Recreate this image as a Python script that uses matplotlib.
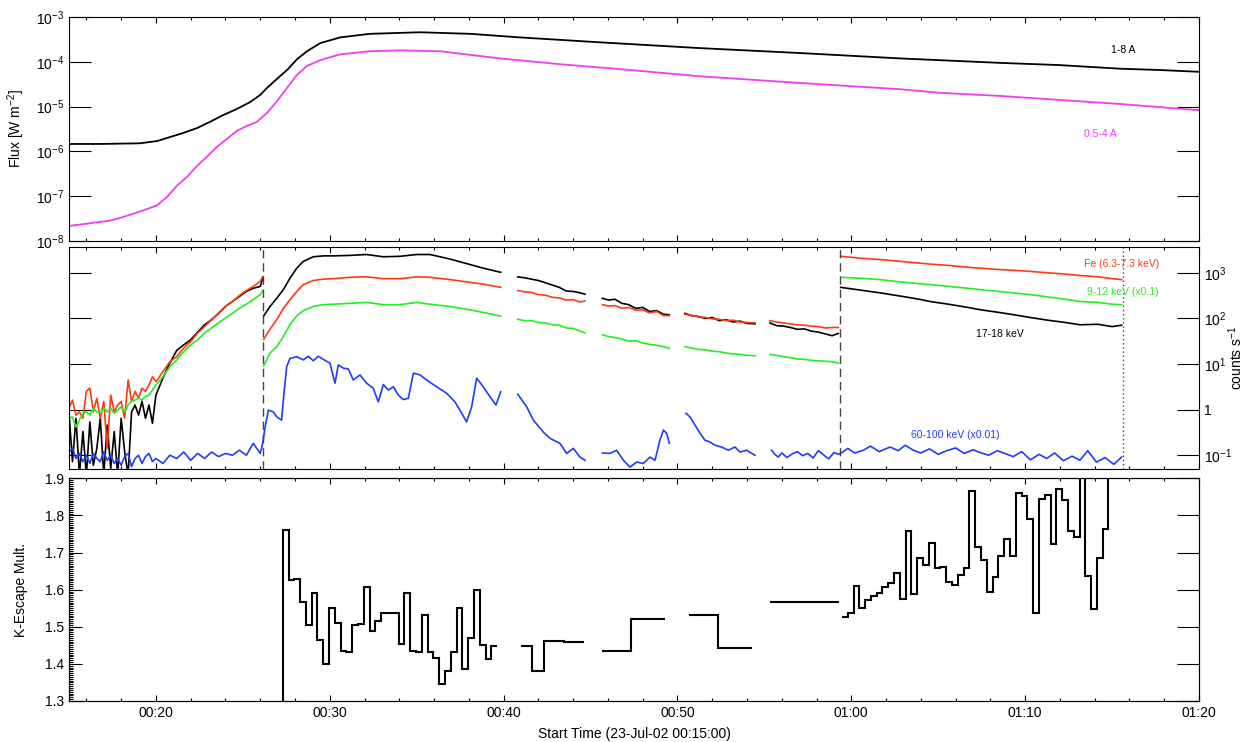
import numpy as np
import matplotlib.pyplot as plt
from matplotlib.ticker import FixedLocator, MultipleLocator, FuncFormatter, NullLocator

plt.rcParams['font.family'] = ['Liberation Sans', 'DejaVu Sans']
plt.rcParams['mathtext.fontset'] = 'custom'
plt.rcParams['mathtext.rm'] = 'Liberation Sans'
plt.rcParams['mathtext.it'] = 'Liberation Sans:italic'
plt.rcParams['mathtext.bf'] = 'Liberation Sans:bold'
plt.rcParams['axes.unicode_minus'] = False

# time axis: minutes after 00:00 UT on 23-Jul-02

# --- GOES flux (log10 W m^-2) ---
goes_long_t = [15.0, 16.78, 19.08, 20.06, 20.81, 21.56, 22.36, 23.11, 23.86, 24.66, 25.41,
               25.99, 26.39, 26.96, 27.54, 28.11, 28.69, 29.44, 30.59, 32.31, 35.19, 38.07,
               40.94, 45.54, 51.30, 57.05, 62.80, 65.10, 68.55, 72.0, 75.45, 77.76, 80.0]
goes_long = [-5.835, -5.835, -5.82, -5.77, -5.68, -5.59, -5.48, -5.34, -5.19, -5.05, -4.90,
             -4.74, -4.58, -4.38, -4.18, -3.94, -3.76, -3.58, -3.45, -3.37, -3.335, -3.37,
             -3.45, -3.56, -3.69, -3.80, -3.92, -3.96, -4.02, -4.07, -4.15, -4.18, -4.22]
goes_short_t = [15.0, 15.63, 16.38, 17.36, 17.93, 18.68, 19.49, 20.06, 20.64, 21.21, 21.79,
                22.36, 22.94, 23.51, 24.09, 24.66, 25.24, 25.81, 26.39, 26.96, 27.54, 28.11,
                28.69, 29.44, 30.59, 32.31, 34.04, 36.34, 39.79, 43.24, 46.69, 51.30, 57.05,
                62.80, 65.10, 68.55, 72.0, 75.45, 80.0]
goes_short = [-7.67, -7.64, -7.60, -7.55, -7.49, -7.40, -7.29, -7.21, -7.02, -6.77, -6.57,
              -6.33, -6.12, -5.90, -5.72, -5.54, -5.43, -5.34, -5.14, -4.88, -4.58, -4.29,
              -4.09, -3.96, -3.83, -3.76, -3.74, -3.76, -3.92, -4.05, -4.16, -4.32, -4.47,
              -4.61, -4.69, -4.76, -4.85, -4.94, -5.08]

# --- RHESSI count rates (log10 counts s^-1), one list per data segment ---
tA = [15.0, 15.2, 15.4, 15.6, 15.8, 16.0, 16.2, 16.4, 16.6, 16.8, 17.0, 17.2, 17.4, 17.6,
      17.8, 18.0, 18.2, 18.4, 18.6, 18.8, 19.0, 19.2, 19.4, 19.6, 19.8, 20.0, 20.4, 20.8,
      21.2, 21.6, 22.0, 22.4, 22.8, 23.2, 23.6, 24.0, 24.4, 24.8, 25.2, 25.6, 26.0, 26.15]
tB = [26.2, 26.56, 26.95, 27.33, 27.71, 28.1, 28.48, 29.05, 29.63, 30.2, 31.16, 32.12,
      33.08, 34.04, 35.0, 35.76, 36.92, 37.87, 38.83, 39.83]
tC = [40.81, 41.2, 41.6, 42.0, 42.4, 42.8, 43.2, 43.6, 44.0, 44.4, 44.68]
tD = [45.68, 46.05, 46.4, 46.8, 47.2, 47.6, 48.0, 48.4, 48.8, 49.2, 49.53]
tE = [50.43, 50.8, 51.2, 51.6, 52.0, 52.4, 52.8, 53.2, 53.6, 54.0, 54.46]
tF = [55.32, 55.7, 56.1, 56.5, 56.9, 57.3, 57.7, 58.1, 58.5, 58.9, 59.25]
tG = [59.39, 60.5, 61.65, 62.8, 63.9, 64.53, 65.6, 66.7, 67.40, 68.5, 69.5, 70.28, 71.3,
      72.3, 73.15, 74.2, 75.0, 75.55]

fe_A = [0.03, 0.21, -0.12, -0.05, -0.19, 0.40, 0.47, -0.05, 0.25, -0.19, 0.18, -0.85, 0.32,
        -0.05, 0.10, 0.18, -0.19, 0.65, 0.18, 0.40, 0.25, 0.47, 0.40, 0.54, 0.72, 0.61, 0.83,
        1.05, 1.16, 1.35, 1.49, 1.68, 1.82, 1.97, 2.11, 2.26, 2.37, 2.50, 2.61, 2.70, 2.81, 2.92]
fe_B = [1.54, 1.76, 1.97, 2.22, 2.41, 2.59, 2.74, 2.83, 2.86, 2.87, 2.90, 2.91, 2.87, 2.87,
        2.91, 2.90, 2.85, 2.80, 2.75, 2.68]
fe_C = [2.61, 2.58, 2.57, 2.52, 2.51, 2.46, 2.45, 2.40, 2.41, 2.36, 2.38]
fe_D = [2.30, 2.27, 2.28, 2.22, 2.24, 2.18, 2.19, 2.12, 2.15, 2.06, 2.06]
fe_E = [2.09, 2.07, 2.03, 2.02, 1.99, 1.98, 1.95, 1.96, 1.92, 1.91, 1.90]
fe_F = [1.95, 1.92, 1.90, 1.88, 1.86, 1.85, 1.83, 1.82, 1.79, 1.80, 1.80]
fe_G = [3.36, 3.32, 3.29, 3.25, 3.21, 3.19, 3.16, 3.12, 3.10, 3.07, 3.05, 3.03, 3.00, 2.97,
        2.94, 2.91, 2.87, 2.85]

lo_A = [-0.19, -0.16, -0.38, -0.23, -0.08, -0.05, -0.12, 0.03, -0.05, -0.08, 0.03, -0.05,
        0.03, -0.08, -0.01, 0.06, -0.05, 0.10, 0.18, 0.21, 0.25, 0.21, 0.29, 0.32, 0.43, 0.54,
        0.72, 0.94, 1.09, 1.27, 1.42, 1.53, 1.68, 1.79, 1.90, 2.01, 2.11, 2.22, 2.31, 2.41,
        2.52, 2.61]
lo_B = [0.96, 1.24, 1.38, 1.60, 1.86, 2.055, 2.17, 2.26, 2.30, 2.31, 2.33, 2.35, 2.30, 2.30,
        2.35, 2.31, 2.26, 2.20, 2.13, 2.05]
lo_C = [1.98, 1.95, 1.95, 1.91, 1.90, 1.86, 1.85, 1.79, 1.78, 1.72, 1.68]
lo_D = [1.64, 1.60, 1.58, 1.55, 1.50, 1.51, 1.46, 1.43, 1.41, 1.38, 1.34]
lo_E = [1.38, 1.35, 1.32, 1.31, 1.28, 1.27, 1.24, 1.22, 1.21, 1.19, 1.18]
lo_F = [1.21, 1.19, 1.16, 1.14, 1.11, 1.10, 1.08, 1.07, 1.06, 1.05, 1.02]
lo_G = [2.90, 2.88, 2.85, 2.80, 2.76, 2.74, 2.70, 2.66, 2.63, 2.59, 2.55, 2.52, 2.47, 2.42,
        2.37, 2.35, 2.31, 2.30]

hi_A = [-0.08, -1.14, -0.19, -1.43, -0.48, -1.43, -0.27, -1.22, -0.85, -0.19, -1.43, -0.34,
        -1.29, -0.48, -1.43, -0.19, -0.92, -1.43, -0.05, 0.10, -0.12, 0.18, -0.19, 0.10,
        -0.30, 0.32, 0.69, 1.02, 1.30, 1.42, 1.53, 1.70, 1.86, 1.97, 2.11, 2.26, 2.37, 2.48,
        2.59, 2.66, 2.70, 2.88]
hi_B = [2.055, 2.26, 2.44, 2.63, 2.88, 3.10, 3.25, 3.35, 3.37, 3.37, 3.38, 3.40, 3.35, 3.36,
        3.40, 3.40, 3.30, 3.20, 3.10, 3.01]
hi_C = [2.91, 2.89, 2.86, 2.83, 2.78, 2.73, 2.68, 2.60, 2.59, 2.56, 2.53]
hi_D = [2.44, 2.40, 2.42, 2.33, 2.30, 2.22, 2.24, 2.15, 2.17, 2.09, 2.08]
hi_E = [2.11, 2.06, 2.04, 2.00, 2.02, 1.95, 1.97, 1.92, 1.94, 1.89, 1.88]
hi_F = [1.90, 1.84, 1.83, 1.80, 1.76, 1.77, 1.72, 1.70, 1.66, 1.62, 1.67]
hi_G = [2.68, 2.62, 2.56, 2.49, 2.42, 2.37, 2.31, 2.24, 2.19, 2.13, 2.07, 2.02, 1.96, 1.91,
        1.86, 1.87, 1.82, 1.85]

tb_AB = tA + [26.27, 26.47, 26.75, 26.95, 27.23, 27.33, 27.52, 27.71, 28.10, 28.48, 28.77,
              29.05, 29.34, 29.63, 30.01, 30.30, 30.49, 30.78, 31.07, 31.35, 31.74, 32.12,
              32.50, 32.79, 33.08, 33.37, 33.66, 33.94, 34.23, 34.52, 34.81, 35.19, 35.57,
              36.15, 36.72, 37.20, 37.59, 37.87, 38.16, 38.45, 38.83, 39.22, 39.56, 39.83]
b_AB = [-0.93, -0.85, -1.07, -0.96, -1.14, -1.00, -1.18, -0.96, -1.07, -1.14, -0.93, -1.11,
        -1.00, -1.18, -1.07, -1.22, -1.03, -0.96, -1.25, -1.07, -1.00, -1.18, -1.03, -0.96,
        -1.14, -1.07, -1.18, -1.00, -1.07, -0.93, -1.11, -0.96, -1.07, -0.93, -1.03, -0.96,
        -1.00, -0.89, -1.00, -0.74, -0.96, -0.72,
        -0.41, -0.01, -0.05, -0.16, -0.23, 0.21, 0.94, 1.12, 1.16, 1.09, 1.17, 1.07, 1.17,
        1.10, 1.02, 0.58, 0.98, 0.91, 0.89, 0.65, 0.76, 0.58, 0.47, 0.17, 0.55, 0.43, 0.50,
        0.32, 0.22, 0.25, 0.80, 0.76, 0.65, 0.50, 0.36, 0.17, -0.08, -0.27, 0.06, 0.69,
        0.50, 0.28, 0.10, 0.39]
tb_C = [40.81, 41.33, 41.71, 42.28, 42.67, 43.24, 43.63, 44.01, 44.39, 44.68]
b_C = [0.34, 0.06, -0.23, -0.49, -0.63, -0.74, -0.96, -0.85, -1.04, -1.11]
tb_D = [45.68, 46.12, 46.5, 46.89, 47.27, 47.65, 48.04, 48.42, 48.71, 48.99, 49.19, 49.38, 49.53]
b_D = [-0.95, -0.96, -0.89, -1.11, -1.26, -1.15, -1.18, -1.04, -1.11, -0.67, -0.45, -0.52, -0.74]
tb_E = [50.49, 50.72, 51.01, 51.30, 51.58, 51.87, 52.16, 52.54, 52.93, 53.31, 53.6, 53.98,
        54.27, 54.46]
b_E = [-0.08, -0.16, -0.34, -0.52, -0.67, -0.71, -0.78, -0.82, -0.89, -0.82, -0.93, -0.89,
       -0.96, -1.00]
tb_FG = [55.42, 55.6, 55.8, 56.0, 56.3, 56.6, 56.9, 57.2, 57.5, 57.8, 58.1, 58.4, 58.7, 59.0,
         59.25, 59.39, 59.8, 60.2, 60.69, 61.1, 61.6, 62.23, 62.7, 63.1, 63.57, 64.0, 64.5,
         65.0, 65.48, 66.0, 66.5, 67.0, 67.4, 67.9, 68.4, 68.9, 69.32, 69.8, 70.3, 70.8,
         71.24, 71.7, 72.2, 72.7, 73.15, 73.6, 74.1, 74.6, 75.1, 75.55]
b_FG = [-0.89, -0.98, -1.04, -0.95, -1.05, -0.97, -0.92, -1.01, -0.96, -1.06, -0.90, -0.99,
        -1.08, -0.94, -0.98, -0.96, -0.85, -0.95, -0.89, -0.80, -0.92, -0.82, -0.90, -0.78,
        -0.89, -0.95, -0.86, -0.98, -0.90, -0.84, -0.96, -0.88, -0.94, -1.00, -0.90, -0.97,
        -1.03, -0.92, -1.10, -0.98, -1.07, -0.95, -1.12, -1.02, -1.11, -0.90, -1.15, -1.05,
        -1.20, -1.04]

attenuator_t = [26.16, 59.36]
obs_end_t = 75.62

# --- K-escape multiplier, 20 s bins ---
kesc1_start = 26.96
kesc1 = [1.0, 1.762, 1.627, 1.630, 1.566, 1.506, 1.591, 1.464, 1.401, 1.551, 1.509, 1.435,
         1.433, 1.504, 1.508, 1.607, 1.488, 1.515, 1.537, 1.537, 1.536, 1.453, 1.590, 1.435,
         1.433, 1.531, 1.433, 1.417, 1.346, 1.382, 1.433, 1.550, 1.386, 1.471, 1.600, 1.452,
         1.414, 1.449]
kesc2_edges = [41.0, 41.63, 42.32, 43.5, 44.62]
kesc2 = [1.449, 1.380, 1.461, 1.458]
kesc3_edges = [45.68, 47.33, 49.28]
kesc3 = [1.434, 1.520]
kesc4_edges = [50.68, 52.31, 54.30]
kesc4 = [1.532, 1.442]
kesc5_edges = [55.32, 59.31]
kesc5 = [1.567]
kesc6_start = 59.46
kesc6 = [1.525, 1.536, 1.609, 1.551, 1.573, 1.582, 1.591, 1.606, 1.617, 1.646, 1.574, 1.759,
         1.589, 1.684, 1.667, 1.727, 1.659, 1.661, 1.620, 1.612, 1.640, 1.658, 1.867, 1.714,
         1.680, 1.594, 1.634, 1.691, 1.736, 1.690, 1.860, 1.853, 1.791, 1.538, 1.843, 1.856,
         1.724, 1.871, 1.841, 1.759, 1.742, 2.0, 1.636, 1.547, 1.685, 1.764, 2.0]

C_FE = '#ff3a12'
C_LO = '#22ee22'
C_HI = 'black'
C_BLUE = '#1f3cff'
C_MAG = '#f23cf2'


def join(times, vals):
    t_out, v_out = [], []
    for t, v in zip(times, vals):
        t_out += list(t) + [np.nan]
        v_out += list(v) + [np.nan]
    return np.array(t_out), 10 ** np.array(v_out)


def hhmm(t, pos):
    m = int(round(t))
    return '%02d:%02d' % (m // 60, m % 60)


def counts_fmt(v, pos):
    e = int(round(np.log10(v)))
    if e == 0:
        return '1'
    return r'$\mathdefault{10^{%d}}$' % e


def style_x(ax, labels=False):
    ax.set_xlim(15, 80)
    ax.xaxis.set_major_locator(MultipleLocator(10))
    ax.xaxis.set_minor_locator(MultipleLocator(2))
    ax.tick_params(axis='x', which='both', direction='in', top=True, bottom=True,
                   labelbottom=labels, labelsize=10, width=0.8)
    ax.tick_params(axis='x', which='major', length=4.5)
    ax.tick_params(axis='x', which='minor', length=2.2)
    if labels:
        ax.xaxis.set_major_formatter(FuncFormatter(hhmm))
    for s in ax.spines.values():
        s.set_linewidth(0.8)


fig = plt.figure(figsize=(12.45, 7.42), dpi=100)
left, width = 69 / 1245, 1130 / 1245
ax1 = fig.add_axes([left, 1 - 240.7 / 742, width, 223.4 / 742])
ax2 = fig.add_axes([left, 1 - 469.3 / 742, width, 222.6 / 742])
ax3 = fig.add_axes([left, 1 - 701 / 742, width, 222.7 / 742])

# panel 1: GOES
ax1.plot(goes_long_t, 10 ** np.array(goes_long), color='black', lw=1.3)
ax1.plot(goes_short_t, 10 ** np.array(goes_short), color=C_MAG, lw=1.3)
ax1.set_yscale('log')
ax1.set_ylim(1e-8, 1e-3)
ax1.yaxis.set_major_locator(FixedLocator([1e-8, 1e-7, 1e-6, 1e-5, 1e-4, 1e-3]))
ax1.yaxis.set_minor_locator(NullLocator())
ax1.tick_params(axis='y', direction='in', left=True, right=True, length=16, width=0.8,
                labelsize=10)
style_x(ax1)
ax1.set_ylabel(r'Flux [W m$^{-2}$]', fontsize=10)
ax1.yaxis.set_label_coords(-0.037, 0.5)
ax1.text(75.63, 10 ** -3.74, '1-8 A', fontsize=7.5, ha='center', va='center', color='black')
ax1.text(74.30, 10 ** -5.61, '0.5-4 A', fontsize=7.5, ha='center', va='center', color=C_MAG)

# panel 2: RHESSI count rates
seg_t = [tA, tB, tC, tD, tE, tF, tG]
for vals, col in [([hi_A, hi_B, hi_C, hi_D, hi_E, hi_F, hi_G], C_HI),
                  ([fe_A, fe_B, fe_C, fe_D, fe_E, fe_F, fe_G], C_FE),
                  ([lo_A, lo_B, lo_C, lo_D, lo_E, lo_F, lo_G], C_LO)]:
    t, c = join(seg_t, vals)
    ax2.plot(t, c, color=col, lw=1.2)
t, c = join([tb_AB, tb_C, tb_D, tb_E, tb_FG], [b_AB, b_C, b_D, b_E, b_FG])
ax2.plot(t, c, color=C_BLUE, lw=1.2)
for x in attenuator_t:
    ax2.axvline(x, color='#444444', lw=1.0, linestyle=(0, (6, 3.5)))
ax2.axvline(obs_end_t, color='#444444', lw=1.0, linestyle=(0, (1, 2)))
ax2.set_yscale('log')
ax2.set_ylim(10 ** -1.308, 10 ** 3.571)
ax2.yaxis.set_major_locator(FixedLocator([0.1, 1, 10, 100, 1000]))
ax2.yaxis.set_minor_locator(NullLocator())
ax2.yaxis.set_major_formatter(FuncFormatter(counts_fmt))
ax2.tick_params(axis='y', direction='in', left=True, right=True, labelleft=False,
                labelright=True, length=16, width=0.8, labelsize=10)
style_x(ax2)
ax2.yaxis.set_label_position('right')
ax2.set_ylabel(r'counts s$^{-1}$', fontsize=10)
ax2.yaxis.set_label_coords(1.0245, 0.5)
ax2.text(75.57, 10 ** 3.20, 'Fe (6.3-7.3 keV)', fontsize=7.5, ha='center', va='center', color=C_FE)
ax2.text(75.6, 10 ** 2.58, '9-12 keV (x0.1)', fontsize=7.5, ha='center', va='center', color=C_LO)
ax2.text(68.55, 10 ** 1.66, '17-18 keV', fontsize=7.5, ha='center', va='center', color='black')
ax2.text(65.96, 10 ** -0.56, '60-100 keV (x0.01)', fontsize=7.5, ha='center', va='center',
         color=C_BLUE)

# panel 3: K-escape multiplier
ax3.stairs(kesc1, kesc1_start + np.arange(len(kesc1) + 1) / 3, color='black', lw=1.5,
           baseline=None)
for edges, vals in [(kesc2_edges, kesc2), (kesc3_edges, kesc3), (kesc4_edges, kesc4),
                    (kesc5_edges, kesc5)]:
    ax3.stairs(vals, edges, color='black', lw=1.5, baseline=None)
ax3.stairs(kesc6, kesc6_start + np.arange(len(kesc6) + 1) / 3, color='black', lw=1.5,
           baseline=None)
ax3.set_ylim(1.3, 1.9)
ax3.yaxis.set_major_locator(MultipleLocator(0.1))
ax3.yaxis.set_minor_locator(MultipleLocator(0.005))
ax3.yaxis.set_major_formatter(FuncFormatter(lambda v, p: '%.1f' % v))
ax3.tick_params(axis='y', which='both', direction='in', left=True, right=False, width=0.8,
                labelsize=10)
ax3.tick_params(axis='y', which='major', length=9)
ax3.tick_params(axis='y', which='minor', length=3)
style_x(ax3, labels=True)
ax3.set_ylabel('K-Escape Mult.', fontsize=10)
ax3.yaxis.set_label_coords(-0.0363, 0.5)
ax3.set_xlabel('Start Time (23-Jul-02 00:15:00)', fontsize=10)
ax3.xaxis.set_label_coords(0.5, -0.115)

ax3r = ax3.twinx()
ax3r.set_ylim(1.3, 1.9)
ax3r.yaxis.set_major_locator(MultipleLocator(0.1))
ax3r.yaxis.set_minor_locator(NullLocator())
ax3r.tick_params(axis='y', direction='in', length=16, width=0.8, labelright=False)

fig.savefig('out.png', dpi=100)
